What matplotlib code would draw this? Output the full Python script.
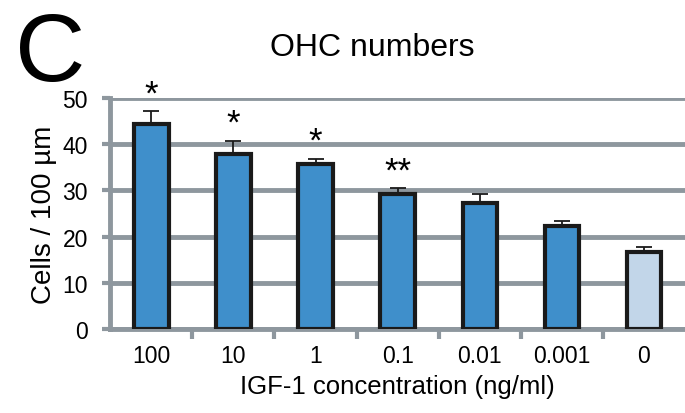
import numpy as np
import matplotlib.pyplot as plt

plt.rcParams['font.family'] = ['Liberation Sans', 'DejaVu Sans']

categories = ["100", "10", "1", "0.1", "0.01", "0.001", "0"]
values = [44.3, 37.9, 35.7, 29.3, 27.2, 22.3, 16.7]
errors = [2.8, 2.8, 1.1, 1.2, 2.0, 1.0, 1.0]
stars = ["*", "*", "*", "**", "", "", ""]

blue = "#3f8fcb"
light = "#c2d6e9"
grey = "#8e979e"

fig = plt.figure(figsize=(6.85, 4.14), dpi=100)
ax = fig.add_axes([0.161, 0.203, 0.839, 0.558])

x = np.arange(len(categories))
colors = [blue] * (len(categories) - 1) + [light]
ax.bar(x, values, width=0.42, color=colors, edgecolor="#1a1a1a", linewidth=3, zorder=3)
ax.errorbar(x, values, yerr=[np.zeros(len(values)), errors], fmt="none",
            ecolor="#1a1a1a", elinewidth=1.3, capsize=6, capthick=1.3, zorder=2)

for xi, v, e, s in zip(x, values, errors, stars):
    if s:
        ax.text(xi, v + e + 0.2, s, ha="center", va="bottom", fontsize=25, zorder=4)

ax.set_xlim(-0.5, len(categories) - 0.5)
ax.set_ylim(0, 50)
ax.set_yticks(range(0, 51, 10))
ax.yaxis.grid(True, color=grey, linewidth=3.5, zorder=0)
ax.set_axisbelow(True)

ax.set_xticks(x)
ax.set_xticklabels(categories, fontsize=16.5)
ax.set_xticks(np.arange(0.5, len(categories) - 1, 1), minor=True)
ax.tick_params(axis="x", which="major", length=0, pad=11)
ax.tick_params(axis="x", which="minor", length=7, width=3, color=grey)
ax.tick_params(axis="y", length=6, width=3, color=grey, labelsize=16.5, pad=10)

for side in ["top", "right"]:
    ax.spines[side].set_visible(False)
for side in ["left", "bottom"]:
    ax.spines[side].set_color(grey)
    ax.spines[side].set_linewidth(3.5)

ax.set_ylabel("Cells / 100 µm", fontsize=20, labelpad=4)
ax.set_xlabel("IGF-1 concentration (ng/ml)", fontsize=18.5, labelpad=5)
fig.text(0.543, 0.885, "OHC numbers", ha="center", va="center", fontsize=23)
fig.text(0.022, 0.805, "C", fontsize=70, ha="left", va="baseline")

fig.savefig("out.png", dpi=100)
